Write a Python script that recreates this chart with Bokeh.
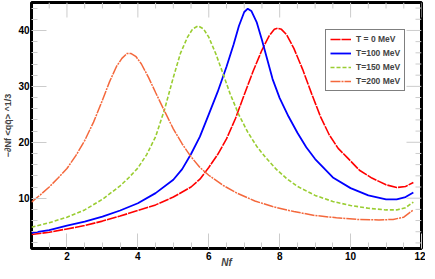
import math
from bokeh.plotting import figure
from bokeh.models import Range1d, LinearAxis, Legend, LegendItem, FixedTicker
from bokeh.embed import file_html
from bokeh.resources import INLINE

# ---- data ----
x_t0 = [1.0, 1.5, 2.0, 2.5, 3.0, 3.5, 4.0, 4.5, 5.0, 5.5, 5.75, 6.0, 6.25, 6.5, 6.75, 7.0, 7.25, 7.5,
        7.7, 7.85, 7.95, 8.05, 8.2, 8.4, 8.65, 8.9, 9.15, 9.4, 9.65, 9.9, 10.25, 10.6, 11.0, 11.3,
        11.55, 11.77]
y_t0 = [3.5, 3.9, 4.5, 5.1, 5.9, 6.8, 7.8, 8.8, 10.2, 12.0, 13.4, 15.5, 17.8, 20.6, 24.2, 28.5, 32.7, 36.5,
        39.0, 40.2, 40.4, 40.2, 39.2, 36.8, 33.0, 28.7, 24.6, 21.3, 18.9, 17.3, 15.0, 13.6, 12.4, 11.9,
        12.1, 12.8]

x_t100 = [1.0, 1.5, 2.0, 2.5, 3.0, 3.5, 4.0, 4.5, 5.0, 5.25, 5.5, 5.75, 6.0, 6.25, 6.5, 6.7, 6.85, 7.0,
          7.1, 7.2, 7.35, 7.5, 7.65, 7.8, 8.0, 8.25, 8.5, 8.75, 9.0, 9.5, 10.0, 10.5, 11.0, 11.3,
          11.55, 11.77]
y_t100 = [3.8, 4.3, 5.1, 5.8, 6.7, 7.8, 9.1, 10.9, 13.3, 15.2, 17.9, 21.0, 25.0, 29.0, 33.5, 37.5, 40.8, 43.3,
          43.9, 43.5, 41.5, 38.3, 34.8, 31.3, 27.9, 24.6, 21.7, 19.1, 17.0, 13.7, 11.8, 10.5, 9.8, 9.8,
          10.2, 11.0]

x_t150 = [1.0, 1.5, 2.0, 2.5, 3.0, 3.5, 3.75, 4.0, 4.25, 4.5, 4.75, 5.0, 5.2, 5.4, 5.55, 5.7, 5.85, 6.0,
          6.2, 6.4, 6.6, 6.85, 7.1, 7.35, 7.6, 7.9, 8.2, 8.5, 9.0, 9.5, 10.0, 10.5, 11.0, 11.3,
          11.55, 11.77]
y_t150 = [4.8, 5.6, 6.6, 7.9, 9.8, 12.2, 13.7, 15.4, 17.8, 21.0, 25.8, 31.6, 35.9, 38.8, 40.3, 40.8, 40.3, 38.8,
          35.8, 32.3, 28.7, 24.9, 21.8, 19.3, 17.3, 15.2, 13.5, 12.1, 10.5, 9.4, 8.7, 8.2, 7.9, 7.9,
          8.3, 9.3]

x_t200 = [1.0, 1.25, 1.5, 1.75, 2.0, 2.25, 2.5, 2.75, 3.0, 3.2, 3.4, 3.55, 3.7, 3.8, 3.95, 4.1, 4.3, 4.5,
          4.75, 5.0, 5.25, 5.5, 5.75, 6.0, 6.4, 6.8, 7.3, 7.8, 8.4, 9.0, 9.6, 10.2, 10.8, 11.2,
          11.5, 11.77]
y_t200 = [9.3, 10.6, 12.0, 13.6, 15.3, 17.6, 20.3, 23.6, 27.5, 30.8, 33.6, 35.0, 35.9, 35.9, 35.3, 34.0, 31.6, 28.9,
          25.6, 22.4, 19.7, 17.4, 15.5, 14.1, 12.3, 10.9, 9.5, 8.5, 7.6, 6.9, 6.5, 6.2, 6.1, 6.2,
          6.6, 7.9]

labels = ["T = 0 MeV", "T=100 MeV", "T=150 MeV", "T=200 MeV"]
x_ticks = [2, 4, 6, 8, 10, 12]
x_minor = [1.5, 2.5, 3, 3.5, 4.5, 5, 5.5, 6.5, 7, 7.5, 8.5, 9, 9.5, 10.5, 11, 11.5]
y_ticks = [10, 20, 30, 40]
y_minor = [2, 4, 6, 8, 12, 14, 16, 18, 22, 24, 26, 28, 32, 34, 36, 38, 42, 44]
x_lim = (1, 12)
y_lim = (1, 45)

FONT = "Liberation Sans"
TICK = "#cccccc"

p = figure(width=425, height=270, output_backend="svg", toolbar_location=None,
           x_range=Range1d(*x_lim), y_range=Range1d(*y_lim),
           min_border_left=0, min_border_right=4, min_border_top=2, min_border_bottom=0,
           x_axis_location=None, y_axis_location=None)
p.grid.visible = False
p.outline_line_color = "black"
p.outline_line_width = 3
p.background_fill_color = "white"
p.border_fill_color = "white"

def style_axis(ax, ticks, minor):
    ax.ticker = FixedTicker(ticks=ticks, minor_ticks=minor)
    ax.axis_line_color = None
    ax.major_tick_in = 15
    ax.major_tick_out = 0
    ax.minor_tick_in = 6
    ax.minor_tick_out = 0
    ax.major_tick_line_color = TICK
    ax.minor_tick_line_color = TICK
    ax.major_label_text_font = FONT
    ax.major_label_text_font_style = "bold"
    ax.major_label_text_font_size = "10px"
    ax.major_label_text_color = "black"
    ax.major_label_standoff = 2

xb = LinearAxis()
style_axis(xb, x_ticks, x_minor)
xb.major_label_standoff = 3
xb.axis_label = "Nf"
xb.axis_label_text_font = FONT
xb.axis_label_text_font_style = "bold italic"
xb.axis_label_text_font_size = "10px"
xb.axis_label_standoff = -6
p.add_layout(xb, "below")

yl = LinearAxis()
style_axis(yl, y_ticks, y_minor)
yl.axis_label = "−∂Nf <qq̄> ^1/3"
yl.axis_label_text_font = FONT
yl.axis_label_text_font_style = "bold"
yl.axis_label_text_font_size = "9px"
yl.axis_label_standoff = 2
p.add_layout(yl, "left")

# mirrored ticks on the top and right edges (no labels)
p.ray(x=x_ticks, y=[y_lim[1]] * len(x_ticks), length=15, length_units="screen",
      angle=-math.pi / 2, line_color=TICK, line_width=1)
p.ray(x=x_minor, y=[y_lim[1]] * len(x_minor), length=6, length_units="screen",
      angle=-math.pi / 2, line_color=TICK, line_width=1)
p.ray(x=[x_lim[1]] * len(y_ticks), y=y_ticks, length=15, length_units="screen",
      angle=math.pi, line_color=TICK, line_width=1)
p.ray(x=[x_lim[1]] * len(y_minor), y=y_minor, length=6, length_units="screen",
      angle=math.pi, line_color=TICK, line_width=1)

r0 = p.line(x_t0, y_t0, line_color="#ff0000", line_width=1.6, line_dash="10 1")
r1 = p.line(x_t100, y_t100, line_color="#0000ff", line_width=1.8)
r2 = p.line(x_t150, y_t150, line_color="#9acd32", line_width=1.6, line_dash="4 2")
r3 = p.line(x_t200, y_t200, line_color="#f4683c", line_width=1.5, line_dash="10 1 2 1")

legend = Legend(items=[LegendItem(label=labels[0], renderers=[r0]),
                       LegendItem(label=labels[1], renderers=[r1]),
                       LegendItem(label=labels[2], renderers=[r2]),
                       LegendItem(label=labels[3], renderers=[r3])],
                location=(294, 157))
legend.label_text_font = FONT
legend.label_text_font_style = "bold"
legend.label_text_font_size = "8.5px"
legend.glyph_width = 21
legend.glyph_height = 10
legend.label_height = 10
legend.label_standoff = 5
legend.spacing = 4
legend.padding = 4
legend.margin = 0
legend.border_line_color = "black"
legend.border_line_width = 1.2
legend.background_fill_alpha = 1
p.add_layout(legend, "center")

open("out.html", "w").write(file_html(p, INLINE))
